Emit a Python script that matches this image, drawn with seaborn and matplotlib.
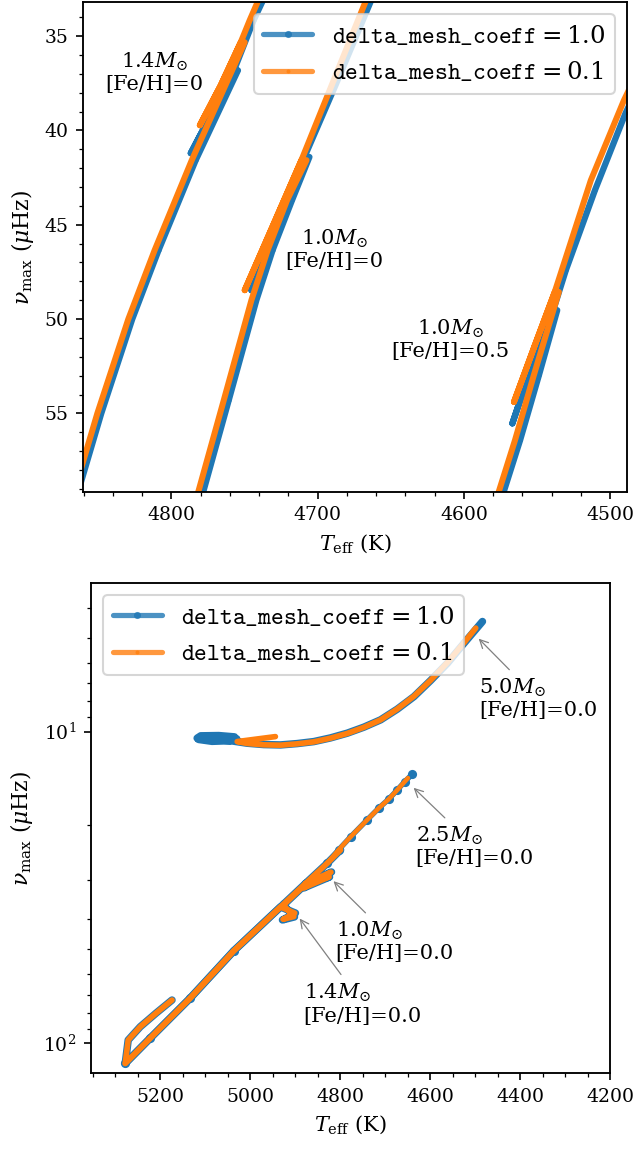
import matplotlib
matplotlib.use("Agg")
import matplotlib.pyplot as plt
import seaborn as sns
from matplotlib.ticker import MultipleLocator, NullFormatter, LogLocator

plt.rcParams.update({
    "font.family": ["DejaVu Serif"],
    "mathtext.fontset": "custom",
    "mathtext.rm": "DejaVu Serif",
    "mathtext.it": "DejaVu Serif:italic",
    "mathtext.bf": "DejaVu Serif:bold",
    "mathtext.tt": "cmtt10",
    "font.size": 9,
    "axes.linewidth": 0.9,
})

BLUE = "#1f77b4"
ORANGE = "#ff7f0e"
labels = [r"$\mathtt{delta\_mesh\_coeff} = 1.0$",
          r"$\mathtt{delta\_mesh\_coeff} = 0.1$"]

# ---------------- upper panel: zoom on the RGB bump ----------------
# 1.4 Msun, [Fe/H]=0
teff_a_10 = [4865.5, 4848.0, 4826.8, 4808.8, 4783.4, 4754.5, 4757.2, 4771.4, 4786.8, 4771.4, 4757.2, 4743.8, 4734.2]
numax_a_10 = [59.59, 55.00, 50.00, 46.35, 41.58, 36.82, 36.82, 38.94, 41.21, 38.94, 36.82, 34.17, 32.58]
teff_a_01 = [4868.2, 4850.7, 4829.5, 4811.5, 4786.1, 4749.9, 4752.6, 4766.3, 4780.6, 4766.3, 4752.6, 4746.5, 4737.6]
numax_a_01 = [59.59, 55.00, 50.00, 46.35, 41.58, 35.33, 35.33, 37.61, 39.73, 37.61, 35.33, 34.17, 32.58]
# 1.0 Msun, [Fe/H]=0
teff_b_10 = [4779.8, 4760.8, 4741.9, 4730.8, 4717.5, 4705.6, 4709.0, 4727.4, 4745.3, 4727.4, 4709.0, 4687.8, 4660.5]
numax_b_10 = [59.59, 54.30, 49.00, 46.35, 43.70, 41.41, 41.41, 44.92, 48.47, 44.92, 41.41, 37.61, 32.58]
teff_b_01 = [4783.2, 4764.2, 4745.3, 4734.2, 4720.9, 4707.6, 4711.1, 4730.5, 4749.9, 4730.5, 4711.1, 4690.4, 4664.1]
numax_b_01 = [59.59, 54.30, 49.00, 46.35, 43.70, 41.58, 41.58, 45.03, 48.47, 45.03, 41.58, 37.61, 32.58]
# 1.0 Msun, [Fe/H]=0.5
teff_c_10 = [4574.5, 4561.5, 4548.6, 4536.1, 4538.8, 4553.3, 4566.8, 4553.3, 4538.8, 4530.2, 4510.3, 4489.4, 4477.0]
numax_c_10 = [59.59, 56.42, 52.97, 49.53, 49.53, 52.44, 55.53, 52.44, 49.53, 47.41, 43.17, 39.09, 37.08]
teff_c_01 = [4577.9, 4565.0, 4552.1, 4535.0, 4537.8, 4551.4, 4565.7, 4551.4, 4537.8, 4513.1, 4490.5, 4478.9]
numax_c_01 = [59.59, 56.42, 52.97, 48.56, 48.56, 51.38, 54.39, 51.38, 48.56, 42.64, 38.41, 36.55]

top_labels = ["1.4$M_{\\odot}$\n[Fe/H]=0", "1.0$M_{\\odot}$\n[Fe/H]=0", "1.0$M_{\\odot}$\n[Fe/H]=0.5"]
top_label_teff = [4811.4, 4688.5, 4609.3]
top_label_numax = [36.92, 46.30, 51.07]

# ---------------- lower panel: full tracks ----------------
# 5.0 Msun
teff_5_10 = [4483.6, 4524.5, 4561.5, 4598.7, 4635.9, 4672.9, 4710.1, 4747.3, 4784.2, 4821.4, 4858.6,
             4895.6, 4932.8, 4969.9, 5006.9, 5040.0, 5080.0, 5118.0, 5110.0, 5070.0, 5035.0,
             5045.0, 5085.0, 5115.0, 5105.0, 5060.0, 5030.0]
numax_5_10 = [4.43, 5.20, 6.03, 6.85, 7.72, 8.47, 9.17, 9.68, 10.12, 10.48, 10.77,
              10.93, 11.04, 11.01, 10.90, 10.72, 10.60, 10.50, 10.32, 10.30, 10.40,
              10.70, 10.75, 10.60, 10.42, 10.40, 10.55]
teff_5_01 = [4498.5, 4524.5, 4561.5, 4598.7, 4635.9, 4672.9, 4710.1, 4747.3, 4784.2, 4821.4, 4858.6,
             4895.6, 4932.8, 4969.9, 5006.9, 5029.0, 4986.0, 4944.0]
numax_5_01 = [4.65, 5.18, 6.00, 6.84, 7.70, 8.46, 9.17, 9.69, 10.14, 10.50, 10.79,
              10.95, 11.06, 11.03, 10.92, 10.77, 10.57, 10.38]
# 2.5 Msun
teff_25_10 = [5277.9, 5222.3, 5133.2, 5036.8, 4925.4, 4828.8, 4803.6,
              4776.9, 4739.7, 4713.8, 4692.2, 4672.9, 4656.6, 4639.5]
numax_25_10 = [116.5, 96.6, 71.8, 50.7, 35.8, 26.5, 24.0,
               21.8, 19.2, 17.6, 16.5, 15.4, 14.5, 13.7]
teff_25_01 = [5277.9, 5222.3, 5133.2, 5036.8, 4925.4, 4828.8, 4803.6,
              4776.9, 4739.7, 4713.8, 4692.2, 4672.9, 4649.3]
numax_25_01 = [116.5, 96.6, 71.8, 50.7, 35.8, 26.5, 24.0,
               21.8, 19.2, 17.6, 16.5, 15.4, 14.1]
# 1.0 Msun
teff_1_10 = [5277.9, 5222.3, 5133.2, 5036.8, 4925.4, 4877.1, 4819.2, 4881.6, 4823.6, 4877.1, 4828.8, 4799.1]
numax_1_10 = [116.5, 96.6, 71.8, 50.7, 35.8, 30.77, 28.26, 31.82, 29.32, 30.77, 26.5, 24.0]
teff_1_01 = [5277.9, 5222.3, 5133.2, 5036.8, 4925.4, 4877.1, 4820.5, 4881.6, 4824.5, 4877.1, 4828.8, 4799.1]
numax_1_01 = [116.5, 96.6, 71.8, 50.7, 35.8, 30.77, 28.30, 31.82, 29.30, 30.77, 26.5, 24.0]
# 1.4 Msun (with the hook at the base of the giant branch)
teff_14_10 = [5173.9, 5209.3, 5244.5, 5271.3, 5277.9, 5222.3, 5133.2, 5036.8, 4932.8, 4899.4,
              4928.3, 4901.6, 4926.1, 4888.2]
numax_14_10 = [72.9, 80.3, 88.8, 98.0, 116.5, 96.6, 71.8, 50.7, 36.6, 38.3,
               40.3, 39.4, 36.1, 32.05]
teff_14_01 = [5173.9, 5209.3, 5244.5, 5271.3, 5277.9, 5222.3, 5133.2, 5036.8, 4932.8, 4901.0,
              4927.0, 4903.0, 4926.1, 4888.2]
numax_14_01 = [72.9, 80.3, 88.8, 98.0, 116.5, 96.6, 71.8, 50.7, 36.6, 38.3,
               40.1, 39.3, 36.1, 32.05]

ann_labels = ["5.0$M_{\\odot}$\n[Fe/H]=0.0", "2.5$M_{\\odot}$\n[Fe/H]=0.0",
              "1.0$M_{\\odot}$\n[Fe/H]=0.0", "1.4$M_{\\odot}$\n[Fe/H]=0.0"]
ann_tip_teff = [4498.5, 4643.3, 4821.4, 4895.6]
ann_tip_numax = [4.92, 14.84, 29.6, 38.9]
ann_text_teff = [4491.8, 4632.1, 4810.3, 4881.5]
ann_text_numax = [6.67, 19.95, 40.3, 63.8]


def track(ax, teff, numax, color, lw, marker, ms, label=None):
    sns.lineplot(x=teff, y=numax, ax=ax, sort=False, estimator=None, color=color,
                 lw=lw, marker=marker, ms=ms, mec=color, mew=0, label=label,
                 solid_capstyle="round", solid_joinstyle="round")


def style_legend(leg):
    for h, ms in zip(leg.legend_handles, (3.4, 3.8)):
        h.set_alpha(0.8)
        h.set_markersize(ms)
        h.set_linewidth(2.5)


fig = plt.figure(figsize=(636 / 150, 1150 / 150), dpi=150)
ax1 = fig.add_axes([0.1305, 0.5724, 0.8553, 0.4258])
ax2 = fig.add_axes([0.1431, 0.0670, 0.8160, 0.4261])

# upper panel
blue_top = [(teff_a_10, numax_a_10), (teff_b_10, numax_b_10), (teff_c_10, numax_c_10)]
orange_top = [(teff_a_01, numax_a_01), (teff_b_01, numax_b_01), (teff_c_01, numax_c_01)]
for i, (t, n) in enumerate(blue_top):
    track(ax1, t, n, BLUE, 3.0, "o", 2.0, labels[0] if i == 0 else None)
for i, (t, n) in enumerate(orange_top):
    track(ax1, t, n, ORANGE, 2.9, ".", 2.0, labels[1] if i == 0 else None)

for txt, t, n in zip(top_labels, top_label_teff, top_label_numax):
    ax1.text(t, n, txt, ha="center", va="center", fontsize=10, linespacing=1.15)

ax1.set_xlim(4860.5, 4488.4)
ax1.set_ylim(59.15, 33.2)
ax1.xaxis.set_major_locator(MultipleLocator(100))
ax1.xaxis.set_minor_locator(MultipleLocator(20))
ax1.yaxis.set_major_locator(MultipleLocator(5))
ax1.yaxis.set_minor_locator(MultipleLocator(1))
ax1.set_xlabel(r"$T_{\rm eff}$ (K)", fontsize=10)
ax1.set_ylabel(r"$\nu_{\rm max}$ ($\mu$Hz)", fontsize=10.5)
leg1 = ax1.legend(loc="upper right", fontsize=11.7)
style_legend(leg1)

# lower panel
blue_bot = [(teff_5_10, numax_5_10, 3.6, 2.0), (teff_25_10, numax_25_10, 2.6, 4.4),
            (teff_1_10, numax_1_10, 3.6, 2.0), (teff_14_10, numax_14_10, 3.6, 2.0)]
orange_bot = [(teff_5_01, numax_5_01, 2.7), (teff_25_01, numax_25_01, 2.2),
              (teff_1_01, numax_1_01, 2.7), (teff_14_01, numax_14_01, 2.7)]
for i, (t, n, lw, ms) in enumerate(blue_bot):
    track(ax2, t, n, BLUE, lw, "o", ms, labels[0] if i == 0 else None)
for i, (t, n, lw) in enumerate(orange_bot):
    track(ax2, t, n, ORANGE, lw, ".", 2.0, labels[1] if i == 0 else None)

ax2.set_yscale("log")
ax2.set_xlim(5354, 4200)
ax2.set_ylim(125, 3.33)
ax2.xaxis.set_major_locator(MultipleLocator(200))
ax2.xaxis.set_minor_locator(MultipleLocator(50))
ax2.yaxis.set_major_locator(LogLocator(base=10))
ax2.yaxis.set_minor_locator(LogLocator(base=10, subs=range(2, 10)))
ax2.yaxis.set_minor_formatter(NullFormatter())

for txt, tt, tn, xt, xn in zip(ann_labels, ann_tip_teff, ann_tip_numax, ann_text_teff, ann_text_numax):
    ax2.annotate(txt, xy=(tt, tn), xytext=(xt, xn), ha="left", va="top",
                 fontsize=10, linespacing=1.15,
                 arrowprops=dict(arrowstyle="->", color="gray", lw=0.6))

ax2.set_xlabel(r"$T_{\rm eff}$ (K)", fontsize=10)
ax2.set_ylabel(r"$\nu_{\rm max}$ ($\mu$Hz)", fontsize=10.5)
leg2 = ax2.legend(loc="upper left", fontsize=11.7)
style_legend(leg2)

fig.savefig("out.png", dpi=150)
